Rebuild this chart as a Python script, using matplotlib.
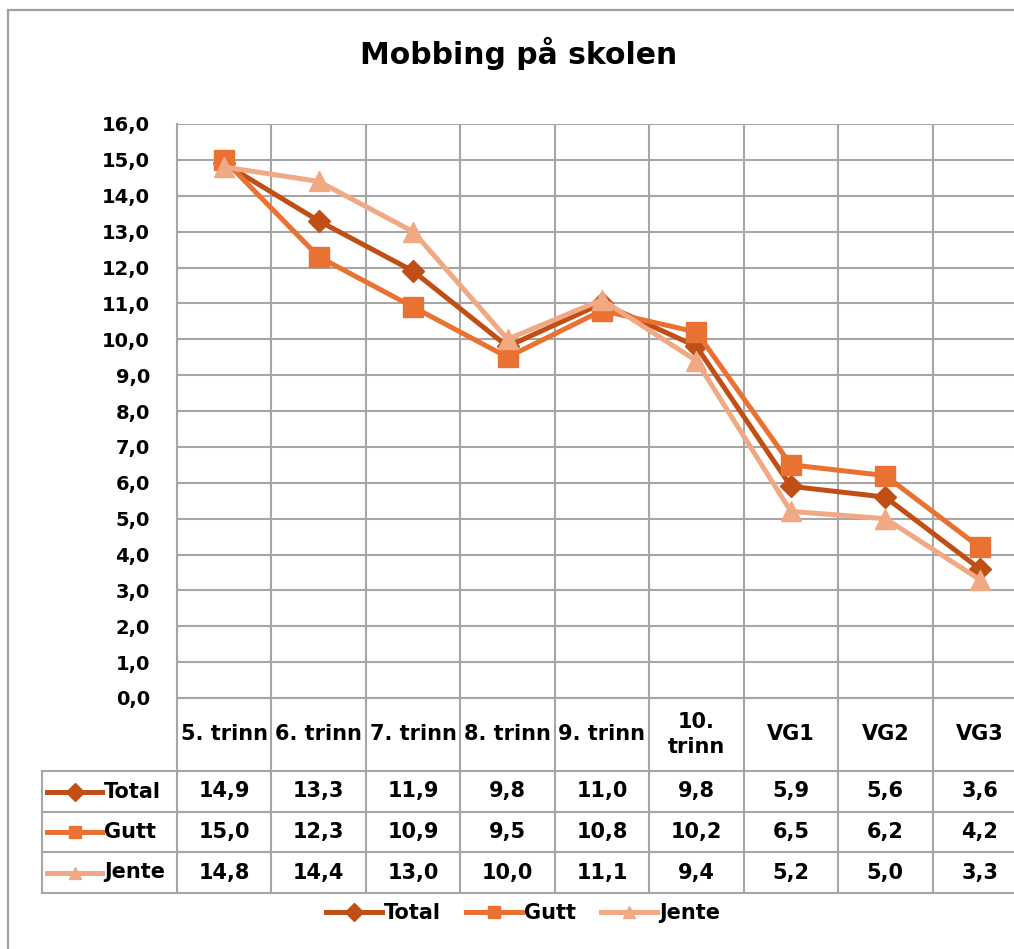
import numpy as np
import matplotlib
matplotlib.use("Agg")
import matplotlib.pyplot as plt
from matplotlib.lines import Line2D
from matplotlib.patches import Rectangle

plt.rcParams['font.family'] = ['DejaVu Sans']
plt.rcParams['font.weight'] = 'bold'

# data
categories = ["5. trinn", "6. trinn", "7. trinn", "8. trinn", "9. trinn",
              "10.\ntrinn", "VG1", "VG2", "VG3"]
total = [14.9, 13.3, 11.9, 9.8, 11.0, 9.8, 5.9, 5.6, 3.6]
gutt = [15.0, 12.3, 10.9, 9.5, 10.8, 10.2, 6.5, 6.2, 4.2]
jente = [14.8, 14.4, 13.0, 10.0, 11.1, 9.4, 5.2, 5.0, 3.3]
series_names = ["Total", "Gutt", "Jente"]
series_values = [total, gutt, jente]
series_colors = ["#C04F15", "#E97132", "#F1A983"]
series_markers = ["D", "s", "^"]
marker_sizes = [11, 14, 15]

W, H = 1014, 949
grid_col = "#A6A6A6"


def fx(px):
    return px / W


def fy(py):
    return 1 - py / H


fig = plt.figure(figsize=(W / 100, H / 100), dpi=100)

# chart border (right and bottom cut off like the reference)
fig.patches.append(Rectangle((fx(8), fy(1000)), fx(1100), fy(10) - fy(1000),
                             transform=fig.transFigure, fill=False,
                             edgecolor="#A0A0A0", linewidth=1.6))

fig.text(fx(519), fy(53), "Mobbing på skolen", ha="center", va="center",
         fontsize=21.5, fontweight="bold")

# main plot area
ax = fig.add_axes([fx(177), fy(698), (1027 - 177) / W, (698 - 124) / H])
n = len(categories)
x = np.arange(n)
ax.set_xlim(-0.5, n - 0.5)
ax.set_ylim(0, 16)
ax.set_yticks(np.arange(0, 17, 1))
ax.set_yticklabels([f"{v:.1f}".replace(".", ",") for v in range(17)],
                   fontsize=14, fontweight="bold")
ax.tick_params(axis="y", length=0, pad=19.5)
ax.set_xticks([])
ax.grid(axis="y", color=grid_col, linewidth=1.5)
ax.vlines(np.arange(0.5, n - 0.5, 1), 0, 16, color=grid_col, linewidth=1.5)
for s in ["top", "right"]:
    ax.spines[s].set_visible(False)
ax.spines["left"].set_color(grid_col)
ax.spines["bottom"].set_color(grid_col)
ax.spines["left"].set_linewidth(1.5)
ax.spines["bottom"].set_linewidth(1.5)
ax.set_axisbelow(True)

for name, vals, col, mk, ms in zip(series_names, series_values, series_colors,
                                   series_markers, marker_sizes):
    ax.plot(x, vals, color=col, linewidth=3.6, marker=mk, markersize=ms,
            label=name, clip_on=False, zorder=3)

# data table under the plot
px_per_cat = (1027 - 177) / n
left_extra = (177 - 42) / px_per_cat
tax = fig.add_axes([fx(42), fy(893), (1027 - 42) / W, (893 - 698) / H])
tax.set_xlim(-0.5 - left_extra, n - 0.5)
tax.set_ylim(893, 698)
tax.axis("off")

row_edges = [771, 812, 852, 893]
for yy in row_edges:
    tax.plot([-0.5 - left_extra, n - 0.5], [yy, yy], color=grid_col,
             linewidth=1.5, clip_on=False)
for b in np.arange(-0.5, n + 0.5, 1):
    tax.plot([b, b], [698, 893], color=grid_col, linewidth=1.5, clip_on=False)
tax.plot([-0.5 - left_extra] * 2, [771, 893], color=grid_col, linewidth=1.5,
         clip_on=False)

for i, c in enumerate(categories):
    tax.text(i, 734.5, c, ha="center", va="center", fontsize=15,
             fontweight="bold", linespacing=1.3)

key_x0 = -0.5 - left_extra + 5 / px_per_cat
key_x1 = -0.5 - left_extra + 60 / px_per_cat
for r, (name, vals, col, mk) in enumerate(zip(series_names, series_values,
                                              series_colors, series_markers)):
    yc = (row_edges[r] + row_edges[r + 1]) / 2
    tax.plot([key_x0, key_x1], [yc, yc], color=col, linewidth=3.6,
             clip_on=False)
    tax.plot([(key_x0 + key_x1) / 2], [yc], color=col, marker=mk,
             markersize=9, clip_on=False)
    tax.text(key_x1 + 2 / px_per_cat, yc, name, ha="left", va="center",
             fontsize=15, fontweight="bold")
    for i, v in enumerate(vals):
        tax.text(i, yc, f"{v:.1f}".replace(".", ","), ha="center",
                 va="center", fontsize=15, fontweight="bold")

# legend at the bottom
handles = [Line2D([], [], color=c, linewidth=3.6, marker=m, markersize=9)
           for c, m in zip(series_colors, series_markers)]
fig.legend(handles, series_names, loc="center", ncol=3,
           bbox_to_anchor=(fx(523), fy(913)), frameon=False,
           prop={"size": 15, "weight": "bold"}, handlelength=2.7,
           handletextpad=0.1, columnspacing=1.2)

fig.savefig("out.png", dpi=100)
